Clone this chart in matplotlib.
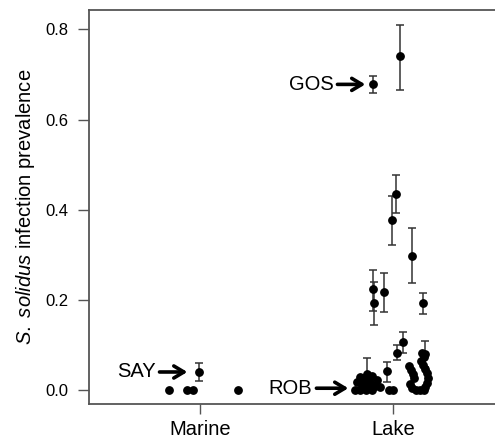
import numpy as np
import matplotlib
matplotlib.use("Agg")
import matplotlib.pyplot as plt

plt.rcParams['font.family'] = ['Liberation Sans', 'DejaVu Sans']
plt.rcParams['mathtext.fontset'] = 'custom'
plt.rcParams['mathtext.it'] = 'Liberation Sans:italic'
plt.rcParams['mathtext.rm'] = 'Liberation Sans'

# x positions are jittered around habitat (1 = Marine, 2 = Lake)
habitats = ["Marine", "Lake"]

# populations without visible error bars
marine_x = [0.839, 0.933, 0.964, 1.197]
marine_y = [0.0, 0.0, 0.0, 0.0]

lake_x = [1.803, 1.829, 1.860, 1.891, 1.813, 1.845, 1.829, 1.860, 1.891,
          1.917, 1.881, 1.907, 1.933, 1.870, 1.839, 1.979, 2.000,
          2.150, 2.161, 2.145, 2.155, 2.166, 2.176, 2.181, 2.176, 2.166,
          2.083, 2.093, 2.104, 2.109, 2.088, 2.098, 2.119, 2.140, 2.161]
lake_y = [0.0, 0.0, 0.0, 0.0, 0.018, 0.018, 0.029, 0.029, 0.031,
          0.022, 0.016, 0.009, 0.007, 0.009, 0.009, 0.0, 0.0,
          0.082, 0.073, 0.064, 0.055, 0.047, 0.038, 0.027, 0.016, 0.007,
          0.053, 0.044, 0.035, 0.027, 0.013, 0.004, 0.0, 0.0, 0.0]

# populations with error bars
err_x  = [0.995, 1.896, 2.036, 2.014, 1.995, 2.098, 1.895, 1.900, 1.950,
          2.154, 2.048, 2.019, 1.967, 1.864, 2.166]
err_y  = [0.040, 0.678, 0.740, 0.435, 0.377, 0.297, 0.223, 0.193, 0.217,
          0.192, 0.107, 0.083, 0.042, 0.035, 0.081]
err_lo = [0.021, 0.659, 0.666, 0.393, 0.322, 0.237, 0.176, 0.144, 0.174,
          0.169, 0.082, 0.067, 0.018, 0.000, 0.050]
err_hi = [0.061, 0.697, 0.810, 0.477, 0.430, 0.359, 0.266, 0.240, 0.260,
          0.215, 0.129, 0.100, 0.063, 0.071, 0.109]

# labelled populations: (name, text x, arrow tip x, y)
labels = [("GOS", 1.689, 1.855, 0.678),
          ("ROB", 1.580, 1.767, 0.004),
          ("SAY", 0.767, 0.933, 0.040)]

fig = plt.figure(figsize=(4.95, 4.43), dpi=100)
ax = fig.add_axes([89/495, 1 - 404/443, 1 - 89/495, 394/443])

ey = np.array(err_y)
yerr = [ey - np.array(err_lo), np.array(err_hi) - ey]
ax.errorbar(err_x, err_y, yerr=yerr, fmt='none', ecolor='#333333',
            elinewidth=1.1, capsize=3, capthick=1.1, zorder=2)
ax.plot(err_x, err_y, 'o', color='black', ms=5.3, zorder=3)
ax.plot(marine_x, marine_y, 'o', color='black', ms=5.3, zorder=3)
ax.plot(lake_x, lake_y, 'o', color='black', ms=5.3, zorder=3)

for name, tx, px, py in labels:
    ax.annotate(name, xy=(px, py), xytext=(tx, py), ha='right', va='center',
                fontsize=14.5,
                arrowprops=dict(arrowstyle='->,head_length=0.5,head_width=0.3',
                                lw=2.6, color='black', shrinkA=1, shrinkB=0))

ax.set_xlim(0.4233, 2.527)
ax.set_ylim(-0.031, 0.843)
ax.set_xticks([1, 2])
ax.set_xticklabels(habitats, fontsize=14.5)
ax.set_yticks([0.0, 0.2, 0.4, 0.6, 0.8])
ax.set_yticklabels(["0.0", "0.2", "0.4", "0.6", "0.8"], fontsize=12)
ax.tick_params(axis='y', length=8, width=1, color='#555555', pad=7)
ax.tick_params(axis='x', length=7.5, width=1, color='#555555', pad=4)
ax.set_ylabel("$\\mathit{S.\\ solidus}$ infection prevalence", fontsize=14.5,
              labelpad=6)
ax.spines['right'].set_visible(False)
for s in ['left', 'top', 'bottom']:
    ax.spines[s].set_color('#555555')
    ax.spines[s].set_linewidth(1.3)

fig.savefig("out.png", dpi=100)
